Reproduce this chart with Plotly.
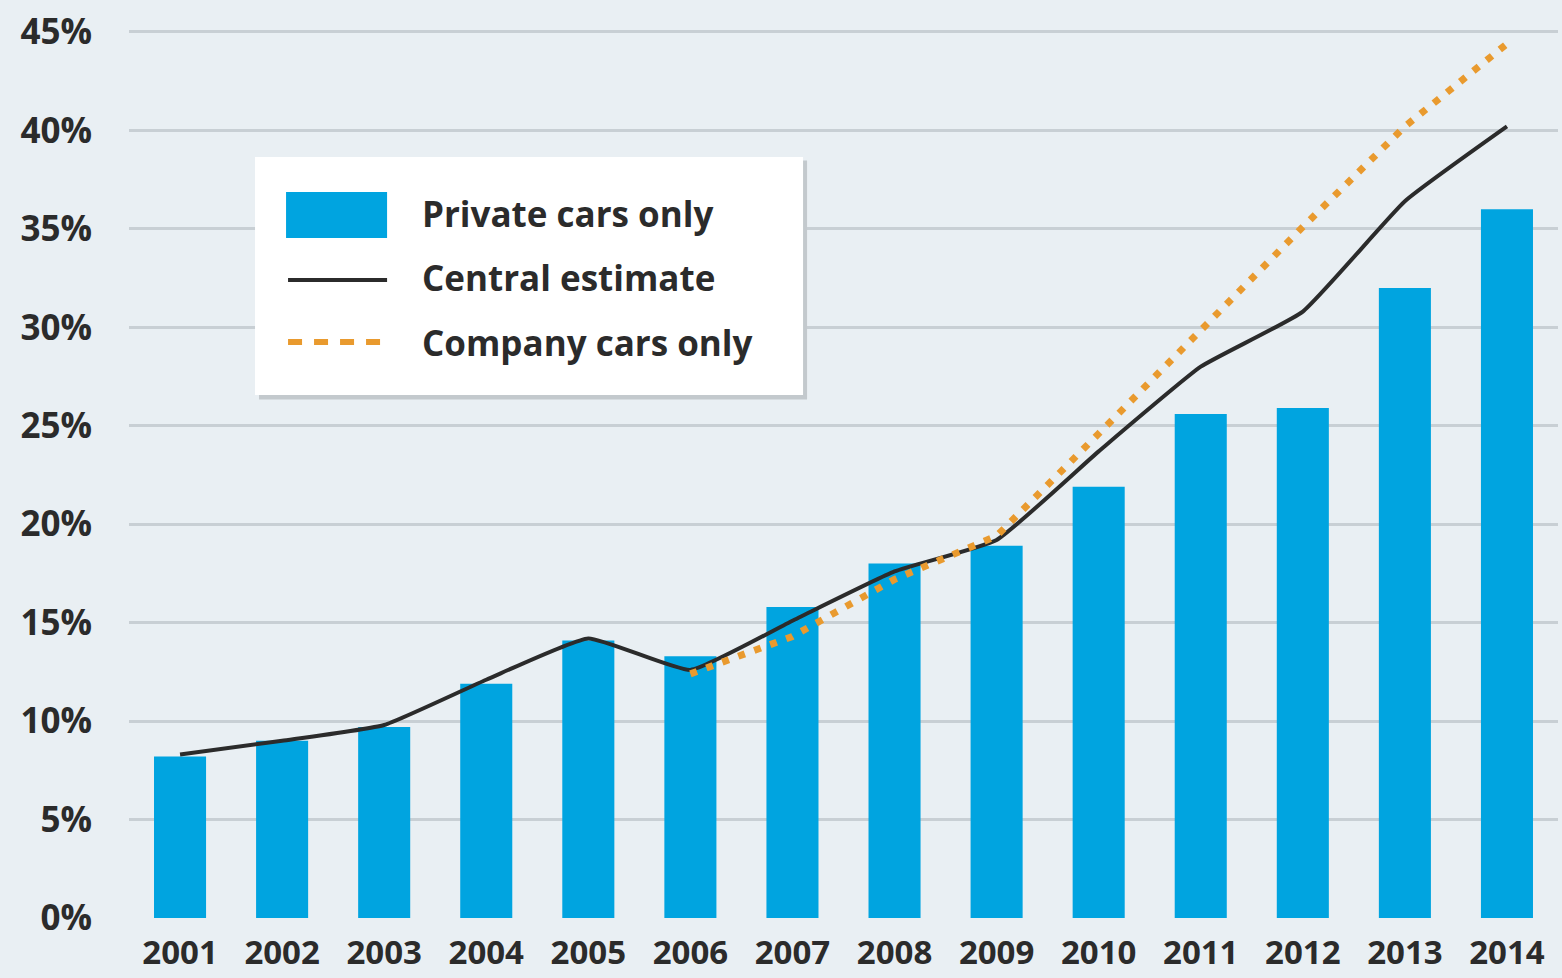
import plotly.graph_objects as go

years = [str(y) for y in range(2001, 2015)]
private_cars = [8.2, 9.0, 9.7, 11.9, 14.1, 13.3, 15.8, 18.0, 18.9, 21.9, 25.6, 25.9, 32.0, 36.0]
central_estimate = [8.3, 9.0, 9.8, 12.1, 14.2, 12.6, 15.1, 17.6, 19.2, 23.7, 28.0, 30.8, 36.4, 40.2]
company_years = ["2006", "2007", "2008", "2009", "2010", "2011", "2012", "2013", "2014"]
company_cars = [12.4, 14.3, 17.2, 19.4, 24.6, 29.9, 35.1, 40.2, 44.4]
y_ticks = [0, 5, 10, 15, 20, 25, 30, 35, 40, 45]
y_tick_labels = [f"{v}%" for v in y_ticks]

BG = "#e9eff3"
BAR = "#00a4e0"
ORANGE = "#e99a2e"
DARK = "#2b2b2b"
GRID = "#c8cfd4"
FONT = "Open Sans"

fig = go.Figure()
fig.add_trace(go.Bar(x=years, y=private_cars, name="Private cars only",
                     marker=dict(color=BAR, line=dict(width=0)), width=0.51))
fig.add_trace(go.Scatter(x=years, y=central_estimate, name="Central estimate", mode="lines",
                         line=dict(color=DARK, width=4, shape="spline", smoothing=0.4)))
fig.add_trace(go.Scatter(x=company_years, y=company_cars, name="Company cars only", mode="lines",
                         line=dict(color=ORANGE, width=7, dash="7px,10px")))

# legend box (drawn in paper coordinates)
shapes = [
    dict(type="rect", xref="paper", yref="paper", x0=0.0910, x1=0.4745, y0=0.584, y1=0.853,
         fillcolor="#c3c9cd", line=dict(width=0), layer="above"),
    dict(type="rect", xref="paper", yref="paper", x0=0.0882, x1=0.4717, y0=0.589, y1=0.857,
         fillcolor="#ffffff", line=dict(width=0), layer="above"),
    dict(type="rect", xref="paper", yref="paper", x0=0.1099, x1=0.1806, y0=0.7658, y1=0.8176,
         fillcolor=BAR, line=dict(width=0), layer="above"),
    dict(type="line", xref="paper", yref="paper", x0=0.1113, x1=0.1806, y0=0.7185, y1=0.7185,
         line=dict(color=DARK, width=4), layer="above"),
    dict(type="line", xref="paper", yref="paper", x0=0.1113, x1=0.1806, y0=0.6486, y1=0.6486,
         line=dict(color=ORANGE, width=6, dash="14px,12px"), layer="above"),
]
annotations = []
for label, yp in [("Private cars only", 0.7939), ("Central estimate", 0.7218), ("Company cars only", 0.6486)]:
    annotations.append(dict(xref="paper", yref="paper", x=0.2036, y=yp, text=label, showarrow=False,
                            xanchor="left", yanchor="middle",
                            font=dict(family=FONT, size=35, color=DARK, weight="bold")))

fig.update_layout(
    width=1562, height=978,
    paper_bgcolor=BG, plot_bgcolor=BG,
    margin=dict(l=129, r=4, t=30, b=60, autoexpand=False),
    showlegend=False,
    bargap=0.49,
    shapes=shapes,
    annotations=annotations,
    font=dict(family=FONT, color=DARK),
)
fig.update_xaxes(type="category", showgrid=False, zeroline=False, showline=False, automargin=False,
                 tickfont=dict(family=FONT, size=33, color=DARK, weight="bold"),
                 ticks="", ticklabelstandoff=12)
fig.update_yaxes(range=[0, 45.1], tickvals=y_ticks, ticktext=y_tick_labels, automargin=False,
                 showgrid=True, gridcolor=GRID, gridwidth=3, zeroline=False, showline=False,
                 tickfont=dict(family=FONT, size=35, color=DARK, weight="bold"),
                 ticks="", ticklabelstandoff=36)

fig.write_html("out.html", config={"displayModeBar": False},
               post_script="document.body.style.margin='0';document.body.style.overflow='hidden';")
